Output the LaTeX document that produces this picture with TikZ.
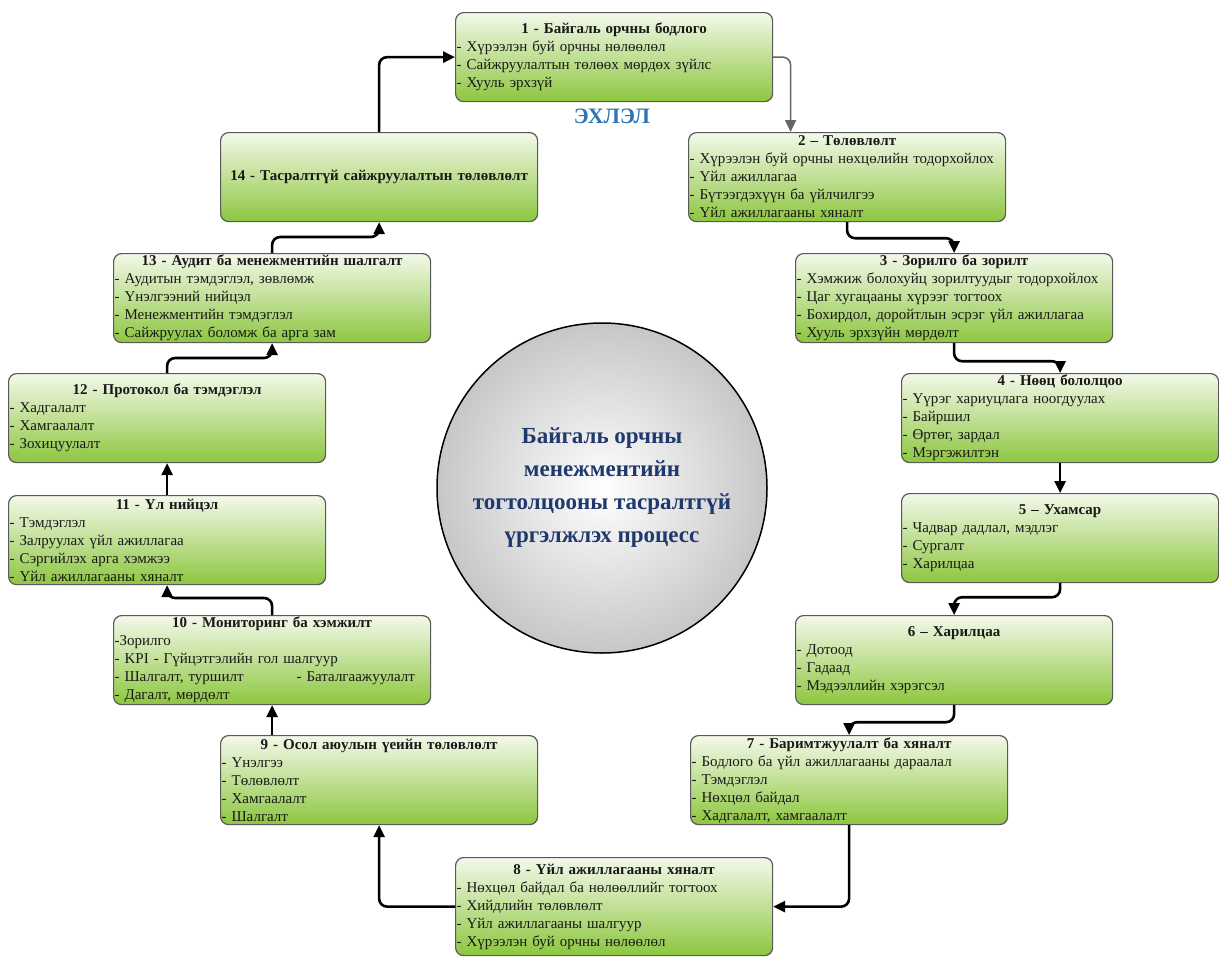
\documentclass[tikz,border=0pt]{standalone}
\usepackage{fontspec}
\setmainfont{Liberation Serif}
\usetikzlibrary{arrows.meta}

\definecolor{boxtop}{RGB}{243,249,234}
\definecolor{boxbot}{RGB}{141,198,63}
\definecolor{hubtext}{RGB}{31,56,110}
\definecolor{starttext}{RGB}{46,117,182}

\newcommand{\boxtitle}[1]{{\centering\bfseries #1\par}}
\newcommand{\itm}[1]{\par\mbox{- #1}}

\tikzset{
  stepbox/.style={draw=black!65, line width=1.2pt, rounded corners=8pt,
    top color=boxtop, bottom color=boxbot, text=black!90,
    text width=315pt, inner xsep=1pt, inner ysep=0pt,
    minimum height=89pt, anchor=north west,
    font=\fontsize{15}{18}\selectfont},
  flow/.style={line width=2.6pt, rounded corners=8pt,
    -{Triangle[length=12pt,width=11pt]}},
  hub/.style={circle, draw, line width=1.5pt, minimum size=330pt,
    inner sep=0pt, shading=radial, inner color=white, outer color=black!22,
    text=hubtext, align=center, font=\fontsize{23}{33}\selectfont\bfseries}
}

\begin{document}
\begin{tikzpicture}[x=1pt, y=-1pt]
    % Page
    \fill[white] (0,0) rectangle (1219,959);
    \useasboundingbox (0,0) rectangle (1219,959);

    % Centre
    \node[hub] (hub) at (602,488) {Байгаль орчны\\менежментийн\\тогтолцооны тасралтгүй\\үргэлжлэх процесс};
    \node[text=starttext, font=\fontsize{22}{26}\selectfont\bfseries] (start) at (612,116) {ЭХЛЭЛ};

    % Right side
    \node[stepbox] (b1) at (455,12) {\boxtitle{1 - Байгаль орчны бодлого}\itm{Хүрээлэн буй орчны нөлөөлөл}\itm{Сайжруулалтын төлөөх мөрдөх зүйлс}\itm{Хууль эрхзүй}};
    \node[stepbox] (b2) at (688,132) {\boxtitle{2 – Төлөвлөлт}\itm{Хүрээлэн буй орчны нөхцөлийн тодорхойлох}\itm{Үйл ажиллагаа}\itm{Бүтээгдэхүүн ба үйлчилгээ}\itm{Үйл ажиллагааны хяналт}};
    \node[stepbox] (b3) at (795,253) {\boxtitle{3 - Зорилго ба зорилт}\itm{Хэмжиж болохуйц зорилтуудыг тодорхойлох}\itm{Цаг хугацааны хүрээг тогтоох}\itm{Бохирдол, доройтлын эсрэг үйл ажиллагаа}\itm{Хууль эрхзүйн мөрдөлт}};
    \node[stepbox] (b4) at (901,373) {\boxtitle{4 - Нөөц бололцоо}\itm{Үүрэг хариуцлага ноогдуулах}\itm{Байршил}\itm{Өртөг, зардал}\itm{Мэргэжилтэн}};
    \node[stepbox] (b5) at (901,493) {\boxtitle{5 – Ухамсар}\itm{Чадвар дадлал, мэдлэг}\itm{Сургалт}\itm{Харилцаа}};
    \node[stepbox] (b6) at (795,615) {\boxtitle{6 – Харилцаа}\itm{Дотоод}\itm{Гадаад}\itm{Мэдээллийн хэрэгсэл}};
    \node[stepbox] (b7) at (690,735) {\boxtitle{7 - Баримтжуулалт ба хяналт}\itm{Бодлого ба үйл ажиллагааны дараалал}\itm{Тэмдэглэл}\itm{Нөхцөл байдал}\itm{Хадгалалт, хамгаалалт}};
    \node[stepbox, minimum height=98pt] (b8) at (455,857) {\boxtitle{8 - Үйл ажиллагааны хяналт}\itm{Нөхцөл байдал ба нөлөөллийг тогтоох}\itm{Хийдлийн төлөвлөлт}\itm{Үйл ажиллагааны шалгуур}\itm{Хүрээлэн буй орчны нөлөөлөл}};

    % Left side
    \node[stepbox] (b9) at (220,735) {\boxtitle{9 - Осол аюулын үеийн төлөвлөлт}\itm{Үнэлгээ}\itm{Төлөвлөлт}\itm{Хамгаалалт}\itm{Шалгалт}};
    \node[stepbox] (b10) at (113,615) {\boxtitle{10 - Мониторинг ба хэмжилт}\par\mbox{-Зорилго}\itm{KPI - Гүйцэтгэлийн гол шалгуур}\par\mbox{\makebox[182pt][l]{- Шалгалт, туршилт}- Баталгаажуулалт}\itm{Дагалт, мөрдөлт}};
    \node[stepbox] (b11) at (8,495) {\boxtitle{11 - Үл нийцэл}\itm{Тэмдэглэл}\itm{Залруулах үйл ажиллагаа}\itm{Сэргийлэх арга хэмжээ}\itm{Үйл ажиллагааны хяналт}};
    \node[stepbox] (b12) at (8,373) {\boxtitle{12 - Протокол ба тэмдэглэл}\itm{Хадгалалт}\itm{Хамгаалалт}\itm{Зохицуулалт}};
    \node[stepbox] (b13) at (113,253) {\boxtitle{13 -~Аудит ба менежментийн шалгалт}\itm{Аудитын тэмдэглэл, зөвлөмж}\itm{Үнэлгээний нийцэл}\itm{Менежментийн тэмдэглэл}\itm{Сайжруулах боломж ба арга зам}};
    \node[stepbox] (b14) at (220,132) {\boxtitle{14 - Тасралтгүй сайжруулалтын төлөвлөлт}};

    % Connectors
    \draw[flow, draw=black!60, line width=1.6pt] (b1.east) -| ([xshift=-56.5pt]b2.north);
    \draw[flow] (b2.south) -- ++(0,16) -| (b3.north);
    \draw[flow] (b3.south) -- ++(0,18) -| (b4.north);
    \draw[flow] (b4.south) -- (b5.north);
    \draw[flow] (b5.south) -- ++(0,14) -| (b6.north);
    \draw[flow] (b6.south) -- ++(0,17) -| (b7.north);
    \draw[flow] (b7.south) |- (b8.east);
    \draw[flow] (b8.west) -| (b9.south);
    \draw[flow] (b10.south |- b9.north) -- (b10.south);
    \draw[flow] (b10.north) -- ++(0,-17) -| (b11.south);
    \draw[flow] (b11.north) -- (b12.south);
    \draw[flow] (b12.north) -- ++(0,-15) -| (b13.south);
    \draw[flow] (b13.north) -- ++(0,-16) -| (b14.south);
    \draw[flow] (b14.north) |- (b1.west);
\end{tikzpicture}
\end{document}
